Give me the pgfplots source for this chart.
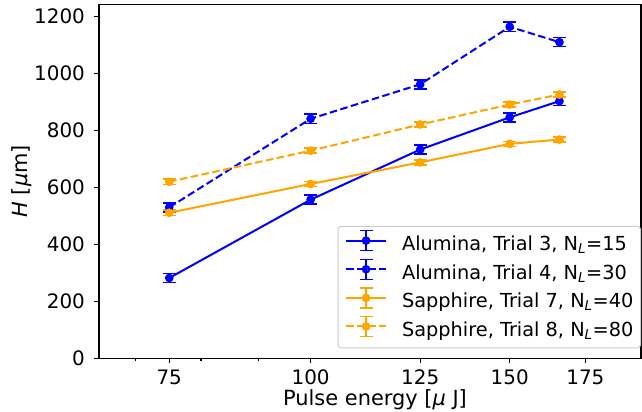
\documentclass[border=0pt]{standalone}
\usepackage{fontspec}
\setmainfont{DejaVu Sans}
\usepackage{pgfplots}
\pgfplotsset{compat=1.18}
\usepackage{pgfplotstable}

\definecolor{mblue}{RGB}{0,0,255}
\definecolor{morange}{RGB}{255,165,0}

% pulse energy, H, error
\pgfplotstableread{
x y e
75 282 16
100 557 16
125 733 16
150 846 16
166 903 16
}\trialthree
\pgfplotstableread{
x y e
75 530 16
100 841 16
125 962 16
150 1164 16
166 1110 16
}\trialfour
\pgfplotstableread{
x y e
75 511 9
100 612 9
125 688 9
150 753 9
166 768 9
}\trialseven
\pgfplotstableread{
x y e
75 620 9
100 729 9
125 821 9
150 891 9
166 926 9
}\trialeight

\begin{document}
\begin{tikzpicture}
\begin{axis}[
    name=ax,
    scale only axis,
    width=542bp, height=354bp,
    xmode=log,
    xmin=65, xmax=196,
    ymin=0, ymax=1243,
    xtick={75,100,125,150,175},
    xticklabels={75,100,125,150,175},
    minor xtick={70,80,90},
    ytick={0,200,400,600,800,1000,1200},
    /pgf/number format/assume math mode=true,
    /pgf/number format/1000 sep={},
    tick pos=left,
    tick align=outside,
    major tick length=5bp,
    minor tick length=3bp,
    tick style={black, line width=1.1bp},
    axis line style={black, line width=1.1bp},
    ticklabel style={font=\fontsize{20}{24}\selectfont},
    xticklabel style={anchor=north, inner sep=0pt, yshift=-6.7bp},
    yticklabel style={anchor=east, inner sep=0pt, xshift=-9bp},
    xlabel={Pulse energy [\textit{μ} J]},
    ylabel={\textit{H} [\textit{μ}m]},
    every axis x label/.style={at={(rel axis cs:0.5,0)}, anchor=center, xshift=5bp, yshift=-41bp, font=\fontsize{21}{25}\selectfont},
    every axis y label/.style={at={(rel axis cs:0,0.5)}, anchor=center, rotate=90, yshift=77bp, font=\fontsize{21}{25}\selectfont},
    error bars/y dir=both,
    error bars/y explicit,
    error bars/error bar style={line width=1.5bp, solid},
    error bars/error mark options={rotate=90, mark size=6.5bp, line width=1.5bp, solid},
    every axis plot/.append style={line width=2bp, mark=*, mark size=3.3bp, mark options={solid}},
    legend cell align=left,
    legend image code/.code={
        \draw[#1, mark=none] (0bp,6bp) -- (40bp,6bp);
        \draw[#1, solid, mark=none, line width=1.5bp] (20bp,-4bp) -- (20bp,16bp)
            (13.5bp,-4bp) -- (26.5bp,-4bp) (13.5bp,16bp) -- (26.5bp,16bp);
        \path[#1, solid] plot coordinates {(20bp,6bp)};
    },
    legend style={
        at={(rel axis cs:1,0)}, anchor=south east, yshift=10bp,
        draw=black!20, line width=1bp, rounded corners=3bp,
        fill=white, fill opacity=0.8, text opacity=1,
        font=\fontsize{19.4}{23}\selectfont,
        inner xsep=7bp, inner ysep=3.5bp,
        row sep=0bp,
        nodes={inner sep=0bp, text height=15.6bp, text depth=8.1bp},
        /tikz/every odd column/.append style={column sep=15bp},
    },
]
\addplot[mblue] table[x=x, y=y, y error=e] {\trialthree};
\addlegendentry{Alumina, Trial 3, N\textsubscript{\itshape L}=15}
\addplot[mblue, dash pattern=on 7.5bp off 3.5bp] table[x=x, y=y, y error=e] {\trialfour};
\addlegendentry{Alumina, Trial 4, N\textsubscript{\itshape L}=30}
\addplot[morange] table[x=x, y=y, y error=e] {\trialseven};
\addlegendentry{Sapphire, Trial 7, N\textsubscript{\itshape L}=40}
\addplot[morange, dash pattern=on 7.5bp off 3.5bp] table[x=x, y=y, y error=e] {\trialeight};
\addlegendentry{Sapphire, Trial 8, N\textsubscript{\itshape L}=80}
\end{axis}
\pgfresetboundingbox
\path[use as bounding box] ([xshift=-99bp, yshift=-53.7bp]ax.south west) rectangle ([xshift=1bp, yshift=4.3bp]ax.north east);
\end{tikzpicture}
\end{document}
